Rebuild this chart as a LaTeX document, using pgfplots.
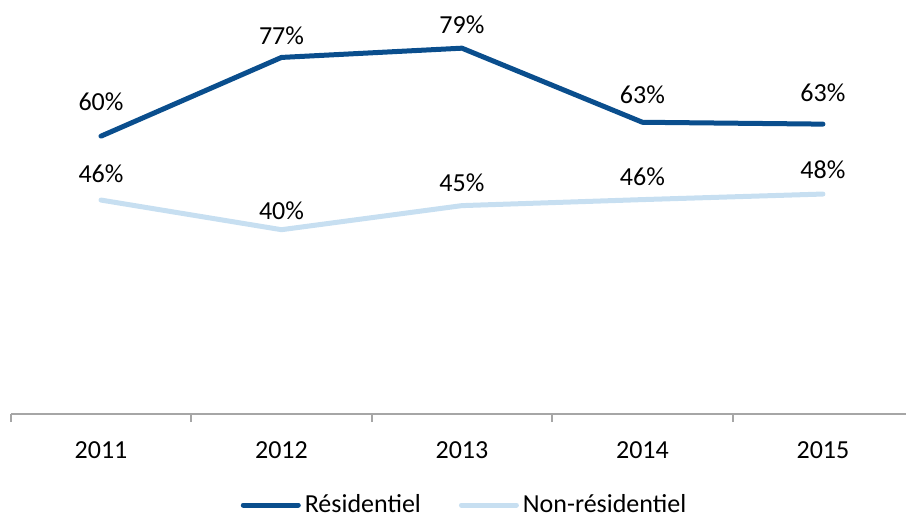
\documentclass[border=0pt]{standalone}
\usepackage{fontspec}
\setmainfont{Carlito}
\usepackage{pgfplots}
\pgfplotsset{compat=1.18}
\usepackage{pgfplotstable}
\definecolor{resid}{RGB}{10,78,141}
\definecolor{nonres}{RGB}{199,223,241}
\definecolor{axgray}{RGB}{166,166,166}

\pgfplotstableread{
x y lab off
0 60 60 17.3
1 77 77 10.7
2 79 79 11.6
3 63 63 13.7
4 62.6 63 15.6
}\tabres

\pgfplotstableread{
x y lab off
0 46.2 46 13
1 39.8 40 9.3
2 45.0 45 11.3
3 46.3 46 11.5
4 47.5 48 12
}\tabnon

\begin{document}
\fontsize{13}{15.6}\selectfont
\begin{tikzpicture}
\begin{axis}[
  at={(0,0)}, anchor=south west,
  scale only axis, width=447.6pt, height=207pt,
  xmin=-0.5, xmax=4.46, ymin=0, ymax=89.4,
  clip=false,
  axis x line=bottom, axis y line=none,
  x axis line style={-, axgray, line width=1pt},
  xtick={0,...,4}, xticklabels={2011,2012,2013,2014,2015},
  major tick length=0pt,
  minor xtick={-0.5,0.5,1.5,2.5,3.5},
  minor tick length=4pt, tick align=outside,
  every tick/.style={axgray, line width=1pt},
  xticklabel style={anchor=base, yshift=-22pt, font=\fontsize{13}{15.6}\selectfont},
  /pgf/number format/assume math mode=true,
  legend style={at={(0.508,0)}, anchor=center, yshift=-45.5pt, draw=none, fill=none,
    font=\fontsize{13}{15.6}\selectfont,
    /tikz/every even column/.append style={column sep=17pt}},
  legend columns=2,
  legend image code/.code={\draw[#1] (0pt,0pt) -- (27.5pt,0pt);},
]
\addplot[resid, line width=2.5pt, line join=round, line cap=round, mark=none, forget plot,
  point meta=explicit,
  visualization depends on={\thisrow{off}\as\myoff},
  nodes near coords={\pgfmathprintnumber{\pgfplotspointmeta}\%},
  every node near coord/.style={anchor=center, yshift=\myoff pt, text=black, font=\fontsize{13}{15.6}\selectfont}]
  table[x=x, y=y, meta=lab]{\tabres};
\addplot[nonres, line width=2.5pt, line join=round, line cap=round, mark=none, forget plot,
  point meta=explicit,
  visualization depends on={\thisrow{off}\as\myoff},
  nodes near coords={\pgfmathprintnumber{\pgfplotspointmeta}\%},
  every node near coord/.style={anchor=center, yshift=\myoff pt, text=black, font=\fontsize{13}{15.6}\selectfont}]
  table[x=x, y=y, meta=lab]{\tabnon};
\addlegendimage{resid, line width=2.5pt, line cap=round}
\addlegendentry{Résidentiel}
\addlegendimage{nonres, line width=2.5pt, line cap=round}
\addlegendentry{Non-résidentiel}
\end{axis}
\pgfresetboundingbox
\path[use as bounding box] (-5.375pt,-51pt) rectangle (447.625pt,207pt);
\end{tikzpicture}
\end{document}
